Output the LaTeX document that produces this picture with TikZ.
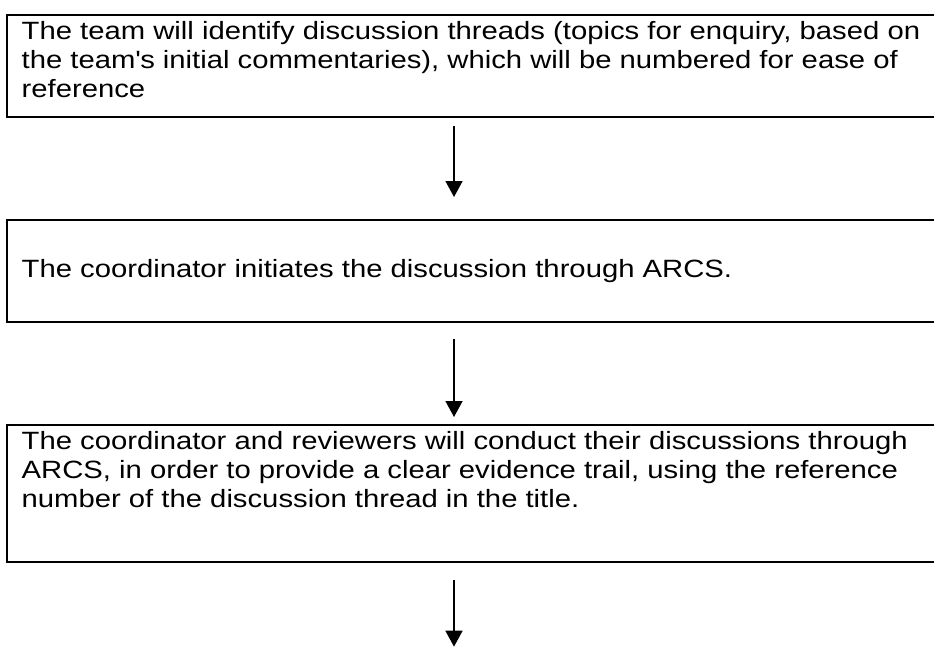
\documentclass[tikz,border=0pt]{standalone}
\usepackage{fontspec}
\setmainfont{Liberation Sans}[FakeStretch=1.17]
\usetikzlibrary{positioning,arrows.meta}

\begin{document}
\begin{tikzpicture}[
  every node/.style = {inner sep=0pt, outer sep=0pt},
  stepbox/.style = {shape=rectangle, draw, line width=2pt,
    anchor=north west, minimum width=720pt},
  steptext/.style = {align=left,
    font=\fontsize{18.75pt}{21.56pt}\selectfont},
  flow/.style = {draw, line width=1.2pt,
    -{Triangle[width=12.75pt,length=12pt]}}]
  \useasboundingbox (0,0) rectangle (700.5pt,-484.5pt);
  \clip (0,0) rectangle (700.5pt,-484.5pt);
  \node[stepbox, minimum height=76.5pt] (box1) at (5.25pt,-11.25pt) {};
  \node[stepbox, minimum height=76.5pt] (box2) at (5.25pt,-165pt) {};
  \node[stepbox, minimum height=102.75pt] (box3) at (5.25pt,-318.75pt) {};
  \node[steptext, below right=5pt and 11pt of box1.north west] (text1)
    {The team will identify discussion threads (topics for enquiry, based on\\
     the team\textquotesingle s initial commentaries), which will be numbered for ease of\\
     reference};
  \node[steptext, right=11pt of box2.west] (text2)
    {The coordinator initiates the discussion through ARCS.};
  \node[steptext, below right=5pt and 11pt of box3.north west] (text3)
    {The coordinator and reviewers will conduct their discussions through\\
     ARCS, in order to provide a clear evidence trail, using the reference\\
     number of the discussion thread in the title.};
  \coordinate (spine) at (340.5pt,0);
  \coordinate (flowend) at (340.5pt,-485pt);
  \draw[flow, shorten <=6.75pt, shorten >=17.25pt] (box1.south -| spine) -- (box2.north -| spine);
  \draw[flow, shorten <=12.75pt, shorten >=6pt] (box2.south -| spine) -- (box3.north -| spine);
  \draw[flow, shorten <=13.5pt] (box3.south -| spine) -- (flowend);
\end{tikzpicture}
\end{document}
